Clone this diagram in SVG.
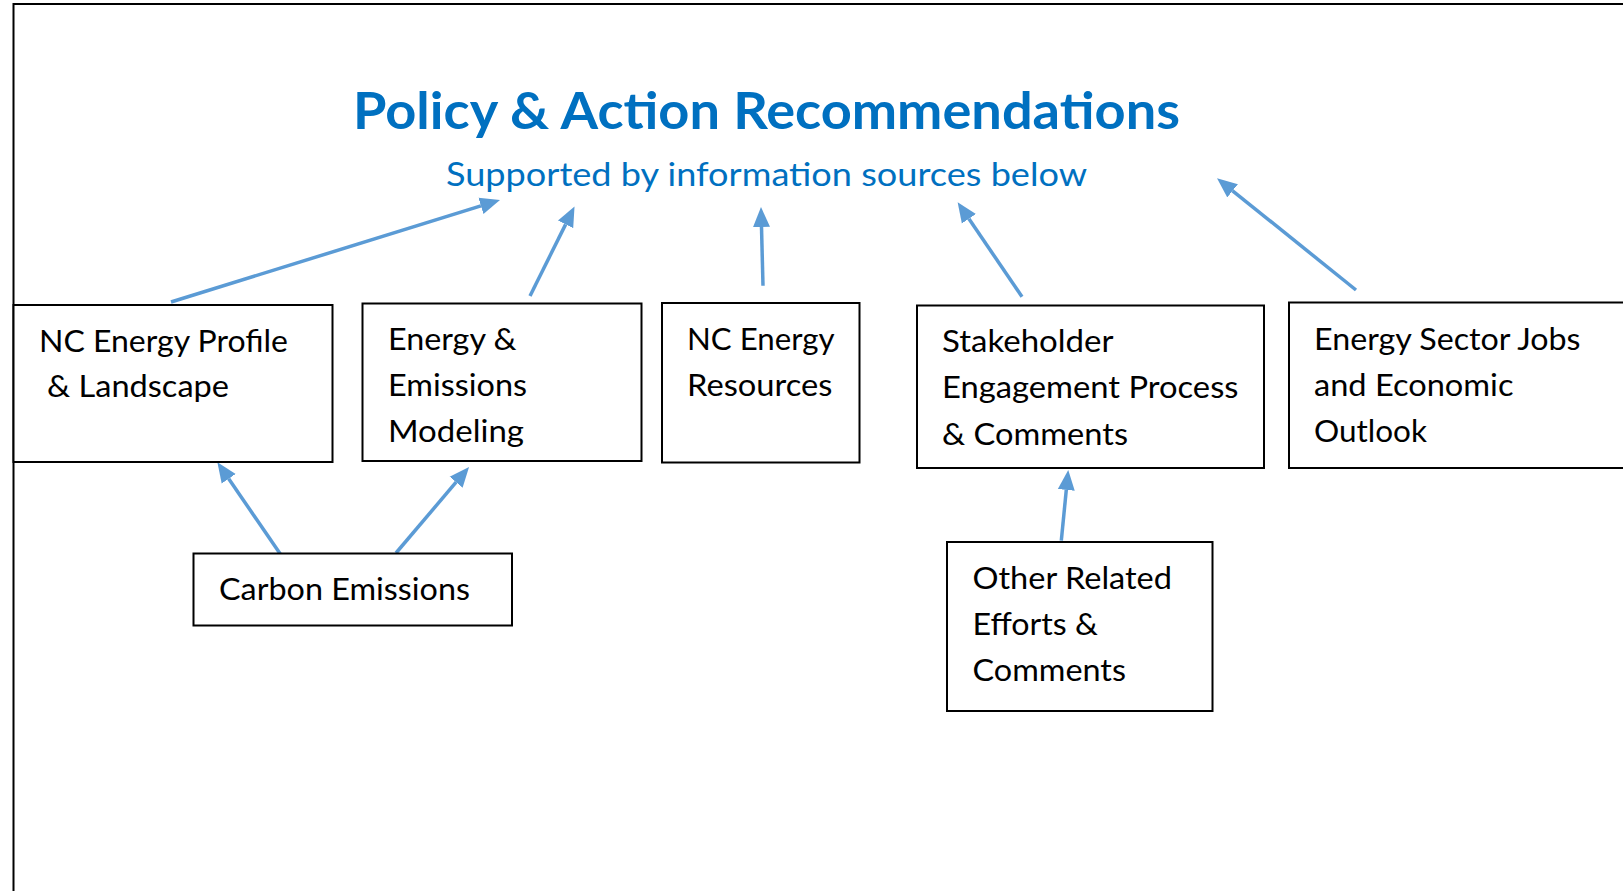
<svg xmlns="http://www.w3.org/2000/svg" width="1623" height="891" viewBox="0 0 1623 891">
<style>
.box{fill:#fff;stroke:#000;stroke-width:2}
.t{font-family:Lato,"Liberation Sans",sans-serif;font-size:30px;fill:#000}
.title{font-family:Lato,"Liberation Sans",sans-serif;font-weight:bold;font-size:51px;fill:#0070C0}
.sub{font-family:Lato,"Liberation Sans",sans-serif;font-size:33px;fill:#0070C0}
.arr{stroke:#5B9BD5;stroke-width:3.5;fill:none;marker-end:url(#ah)}
</style>
<defs>
<marker id="ah" viewBox="0 -9 20 18" markerWidth="20" markerHeight="18" refX="0" refY="0" orient="auto" markerUnits="userSpaceOnUse">
<path d="M0,-8.5 L20,0 L0,8.5 z" fill="#5B9BD5"/>
</marker>
</defs>
<rect width="1623" height="891" fill="#fff"/>
<g id="frame">
<path d="M13.5,891 L13.5,4 L1623,4" fill="none" stroke="#000" stroke-width="2"/>
</g>
<g id="title">
<text class="title" x="353" y="129" textLength="827" lengthAdjust="spacingAndGlyphs">Policy &amp; Action Recommendations</text>
<text class="sub" x="446" y="186" textLength="641" lengthAdjust="spacingAndGlyphs">Supported by information sources below</text>
</g>
<g id="connectors">
<line class="arr" x1="171" y1="302" x2="480.9" y2="205.9"/>
<line class="arr" x1="530" y1="296" x2="565.6" y2="224.4"/>
<line class="arr" x1="763" y1="285.7" x2="761.5" y2="227"/>
<line class="arr" x1="1022" y1="296.7" x2="968.9" y2="218.8"/>
<line class="arr" x1="1356" y1="290" x2="1232.6" y2="190.8"/>
<line class="arr" x1="281" y1="555" x2="228.7" y2="478.8"/>
<line class="arr" x1="396" y1="553" x2="456.1" y2="482.2"/>
<line class="arr" x1="1061.3" y1="540.7" x2="1066.3" y2="489.9"/>
</g>
<g id="nc-energy-profile">
<rect class="box" x="13.5" y="305" width="319" height="157"/>
<text class="t" x="39" y="352" textLength="249" lengthAdjust="spacingAndGlyphs">NC Energy Profile</text>
<text class="t" x="47" y="397" textLength="182" lengthAdjust="spacingAndGlyphs">&amp; Landscape</text>
</g>
<g id="energy-emissions-modeling">
<rect class="box" x="362.5" y="303.5" width="279" height="157.5"/>
<text class="t" x="388" y="349.5" textLength="128.5" lengthAdjust="spacingAndGlyphs">Energy &amp;</text>
<text class="t" x="388" y="395.5" textLength="139" lengthAdjust="spacingAndGlyphs">Emissions</text>
<text class="t" x="388" y="441.5" textLength="136" lengthAdjust="spacingAndGlyphs">Modeling</text>
</g>
<g id="nc-energy-resources">
<rect class="box" x="662" y="303" width="197.5" height="159.5"/>
<text class="t" x="687" y="349.5" textLength="147.5" lengthAdjust="spacingAndGlyphs">NC Energy</text>
<text class="t" x="687" y="395.5" textLength="145.5" lengthAdjust="spacingAndGlyphs">Resources</text>
</g>
<g id="stakeholder-engagement">
<rect class="box" x="917" y="305.5" width="347" height="162.5"/>
<text class="t" x="942" y="351.5" textLength="171.5" lengthAdjust="spacingAndGlyphs">Stakeholder</text>
<text class="t" x="942" y="398" textLength="296.5" lengthAdjust="spacingAndGlyphs">Engagement Process</text>
<text class="t" x="942" y="445" textLength="186" lengthAdjust="spacingAndGlyphs">&amp; Comments</text>
</g>
<g id="energy-sector-jobs">
<rect class="box" x="1289" y="302.5" width="345" height="165.5"/>
<text class="t" x="1314" y="349.5" textLength="266.5" lengthAdjust="spacingAndGlyphs">Energy Sector Jobs</text>
<text class="t" x="1314" y="395.5" textLength="199.5" lengthAdjust="spacingAndGlyphs">and Economic</text>
<text class="t" x="1314" y="441.5" textLength="113" lengthAdjust="spacingAndGlyphs">Outlook</text>
</g>
<g id="carbon-emissions">
<rect class="box" x="193.5" y="553.5" width="318.5" height="72"/>
<text class="t" x="219" y="599.5" textLength="251" lengthAdjust="spacingAndGlyphs">Carbon Emissions</text>
</g>
<g id="other-related-efforts">
<rect class="box" x="947" y="542" width="265.5" height="169"/>
<text class="t" x="972.5" y="588.5" textLength="199.5" lengthAdjust="spacingAndGlyphs">Other Related</text>
<text class="t" x="972.5" y="634.5" textLength="125.5" lengthAdjust="spacingAndGlyphs">Efforts &amp;</text>
<text class="t" x="972.5" y="680.5" textLength="153.5" lengthAdjust="spacingAndGlyphs">Comments</text>
</g>
</svg>
